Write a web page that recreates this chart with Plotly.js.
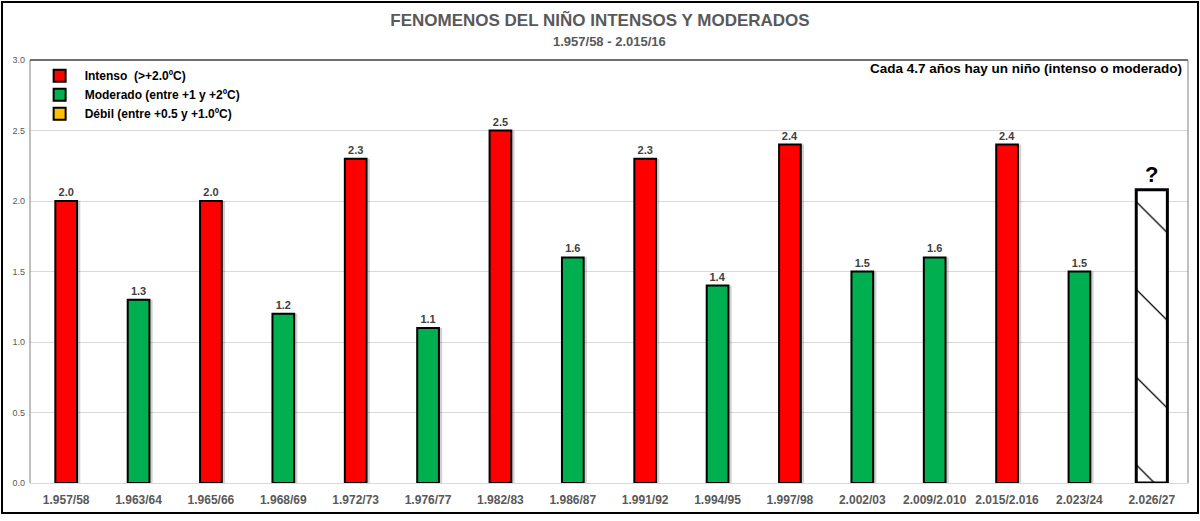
<!DOCTYPE html>
<html>
<head>
<meta charset="utf-8">
<script src="https://cdn.plot.ly/plotly-3.0.1.min.js"></script>
<style>
  html, body { margin: 0; padding: 0; background: #fff; }
  #wrap { position: relative; width: 1200px; height: 521px; }
  #chart { width: 1200px; height: 521px; }
  #frame { position: absolute; left: 1px; top: 1px; width: 1194px; height: 509px; border: 2px solid #000; pointer-events: none; }
</style>
</head>
<body>
<div id="wrap">
  <div id="chart"></div>
  <div id="frame"></div>
</div>
<script>
// ---- data ----
const categories = ["1.957/58","1.963/64","1.965/66","1.968/69","1.972/73","1.976/77","1.982/83","1.986/87","1.991/92","1.994/95","1.997/98","2.002/03","2.009/2.010","2.015/2.016","2.023/24","2.026/27"];

const intensoCats = ["1.957/58","1.965/66","1.972/73","1.982/83","1.991/92","1.997/98","2.015/2.016"];
const intensoVals = [2.0, 2.0, 2.3, 2.5, 2.3, 2.4, 2.4];

const moderadoCats = ["1.963/64","1.968/69","1.976/77","1.986/87","1.994/95","2.002/03","2.009/2.010","2.023/24"];
const moderadoVals = [1.3, 1.2, 1.1, 1.6, 1.4, 1.5, 1.6, 1.5];

const futureCats = ["2.026/27"];
const futureVals = [2.08];
const futureText = ["?"];

const legendNames = ["Intenso  (>+2.0ºC)", "Moderado (entre +1 y +2ºC)", "Débil (entre +0.5 y +1.0ºC)"];

const titleText = "FENOMENOS DEL NIÑO INTENSOS Y MODERADOS";
const subtitleText = "1.957/58 - 2.015/16";
const noteText = "Cada 4.7 años hay un niño (intenso o moderado)";

// ---- styles ----
const FONT = "Arial, 'Liberation Sans', sans-serif";
const labelFont = {family: FONT, size: 11, color: "#404040", weight: "bold"};
const shadowCol = "rgba(0,0,0,0.18)";
const labelTpl = "%{y:.1f}";

function shadow(cats, vals, w) {
  return {
    type: "bar", x: cats, y: vals, width: w, offset: -w/2 + 0.045,
    marker: {color: shadowCol, line: {width: 0}},
    showlegend: false, hoverinfo: "skip"
  };
}

const traces = [
  shadow(intensoCats, intensoVals, 0.3),
  shadow(moderadoCats, moderadoVals, 0.3),
  {
    type: "bar", name: legendNames[0], x: intensoCats, y: intensoVals, width: 0.3,
    marker: {color: "#FF0000", line: {color: "#000", width: 2}},
    texttemplate: labelTpl, textposition: "outside", textfont: labelFont, cliponaxis: false
  },
  {
    type: "bar", name: legendNames[1], x: moderadoCats, y: moderadoVals, width: 0.3,
    marker: {color: "#00B050", line: {color: "#000", width: 2}},
    texttemplate: labelTpl, textposition: "outside", textfont: labelFont, cliponaxis: false
  },
  {
    type: "bar", name: legendNames[2], x: [categories[0]], y: [null], width: 0.3,
    marker: {color: "#FFC000", line: {color: "#000", width: 2}}
  },
  {
    type: "bar", x: futureCats, y: futureVals, width: 0.43, showlegend: false,
    text: futureText, texttemplate: "%{text}", textposition: "outside",
    textfont: {family: FONT, size: 22, color: "#000", weight: "bold"}, cliponaxis: false,
    marker: {color: "#fff", line: {color: "#000", width: 3},
             pattern: {shape: "\\", size: 62, solidity: 0.02, fgcolor: "#000", bgcolor: "#fff"}}
  }
];

const layout = {
  width: 1200, height: 521,
  margin: {l: 30, r: 12, t: 60, b: 38},
  paper_bgcolor: "#fff", plot_bgcolor: "#fff",
  barmode: "overlay",
  showlegend: true,
  font: {family: FONT},
  title: {
    text: "<b>" + titleText + "</b>",
    font: {family: FONT, size: 17, color: "#595959"},
    x: 0.5, xanchor: "center", y: 0.962, yanchor: "middle"
  },
  legend: {
    x: 0.004, y: 0.997, xanchor: "left", yanchor: "top",
    font: {family: FONT, size: 12, color: "#000", weight: "bold"},
    bgcolor: "rgba(255,255,255,0)", borderwidth: 0,
    itemwidth: 40, tracegroupgap: 0
  },
  xaxis: {
    type: "category", categoryorder: "array", categoryarray: categories,
    range: [-0.5, categories.length - 0.5],
    showgrid: false, zeroline: false,
    showline: true, linecolor: "#d9d9d9", linewidth: 1,
    ticks: "", tickfont: {family: FONT, size: 12, color: "#595959", weight: "bold"},
    ticklabelstandoff: 6
  },
  yaxis: {
    range: [0, 3], dtick: 0.5, tickformat: ".1f",
    showgrid: true, gridcolor: "#d9d9d9", gridwidth: 1,
    zeroline: false, showline: false,
    ticks: "", tickfont: {family: FONT, size: 9, color: "#595959"},
    ticklabelstandoff: 4
  },
  shapes: [
    {type: "line", xref: "paper", yref: "paper", x0: 0, x1: 0, y0: 0, y1: 1, line: {color: "#808080", width: 1}},
    {type: "line", xref: "paper", yref: "paper", x0: 0, x1: 1, y0: 1, y1: 1, line: {color: "#404040", width: 1.5}},
    {type: "line", xref: "paper", yref: "paper", x0: 1, x1: 1, y0: 0, y1: 1, line: {color: "#808080", width: 1}}
  ],
  annotations: [
    {
      text: "<b>" + subtitleText + "</b>", xref: "paper", yref: "paper",
      x: 0.5, y: 1.0 + (19 / 423), xanchor: "center", yanchor: "middle", showarrow: false,
      font: {family: FONT, size: 13, color: "#595959"}
    },
    {
      text: "<b>" + noteText + "</b>", xref: "paper", yref: "paper",
      x: 0.9965, y: 0.98, xanchor: "right", yanchor: "middle", showarrow: false,
      font: {family: FONT, size: 13.5, color: "#000"}
    }
  ]
};

Plotly.newPlot("chart", traces, layout, {displayModeBar: false, staticPlot: true});
</script>
</body>
</html>
